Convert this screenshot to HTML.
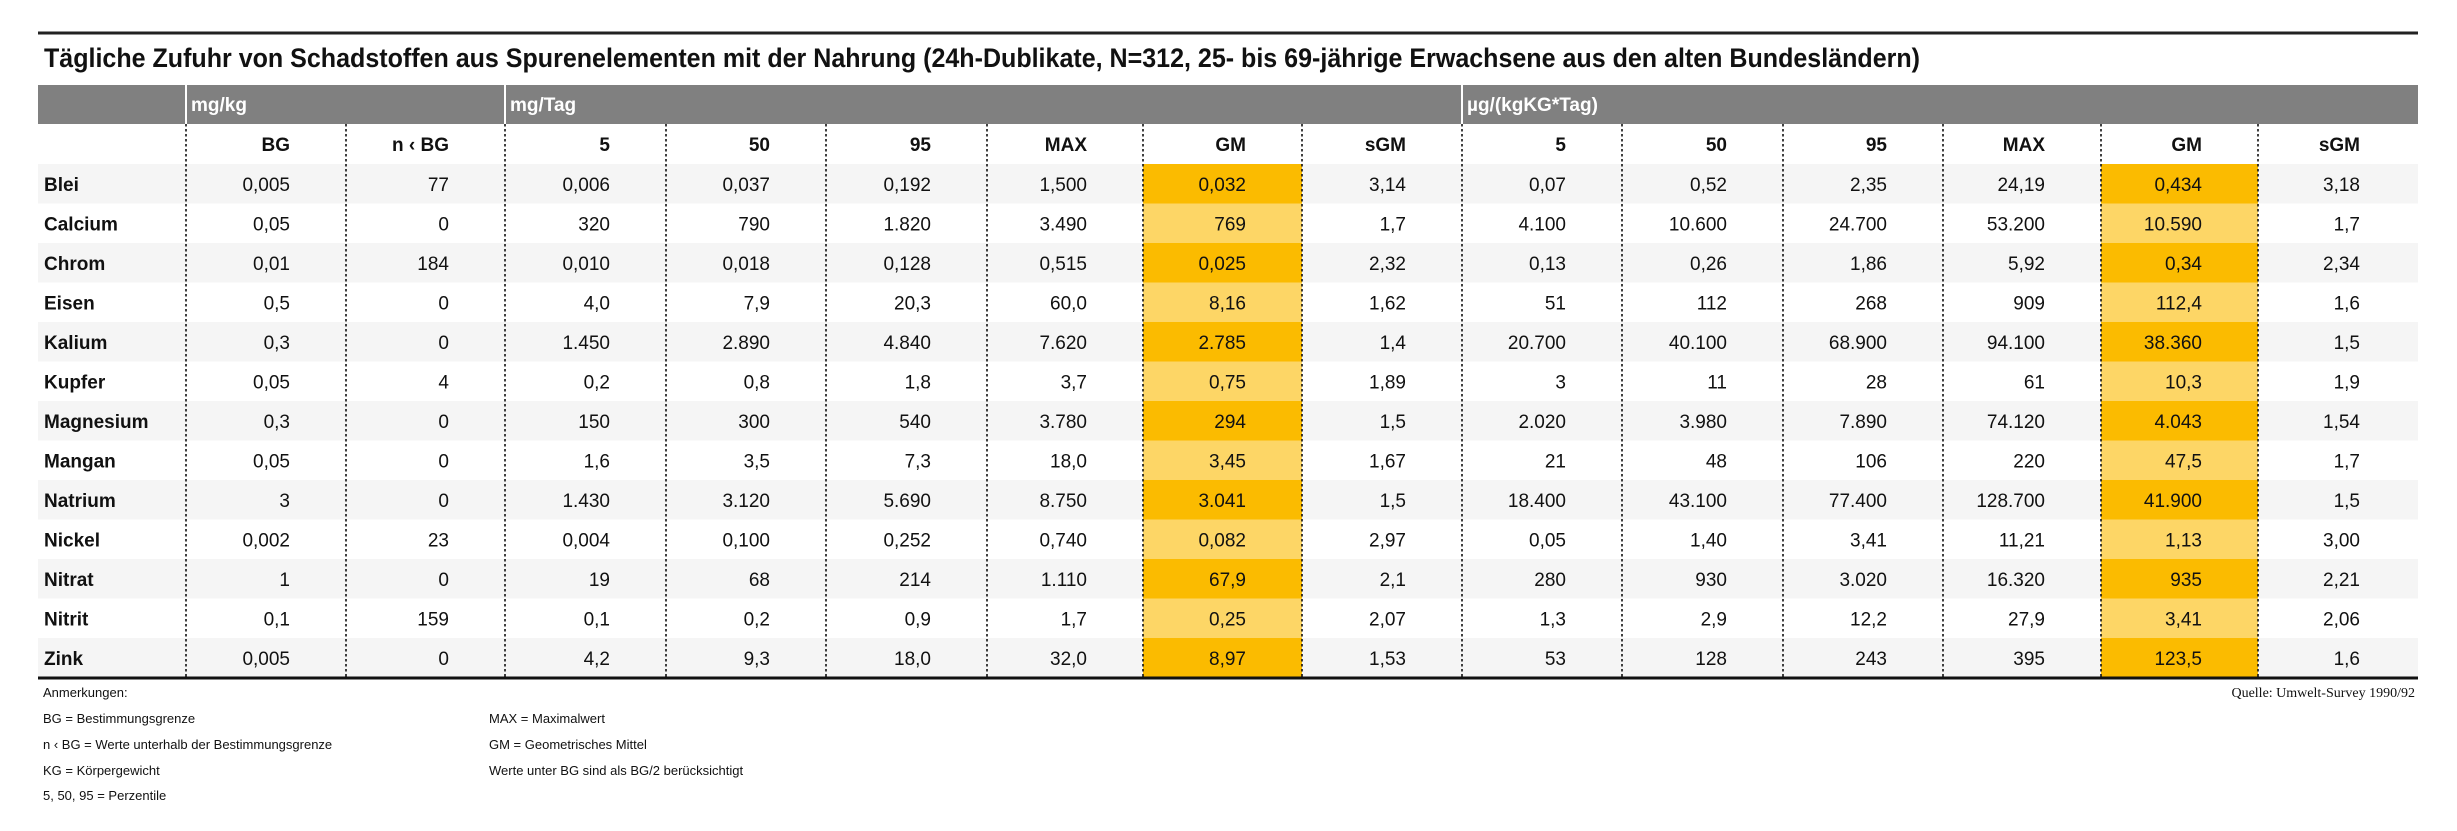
<!DOCTYPE html>
<html><head><meta charset="utf-8"><style>
html,body{margin:0;padding:0;background:#fff}
svg{display:block}
text{font-family:"Liberation Sans",sans-serif;fill:#111}
text.w{fill:#fff}
</style></head><body>
<svg width="2457" height="831" viewBox="0 0 2457 831" xmlns="http://www.w3.org/2000/svg">
<rect width="2457" height="831" fill="#fff"/>
<line x1="38" y1="33" x2="2418" y2="33" stroke="#222" stroke-width="3"/>
<text x="44" y="67" font-size="27" font-weight="bold" textLength="1876" lengthAdjust="spacingAndGlyphs">Tägliche Zufuhr von Schadstoffen aus Spurenelementen mit der Nahrung (24h-Dublikate, N=312, 25- bis 69-jährige Erwachsene aus den alten Bundesländern)</text>
<rect x="38" y="85" width="2380" height="39" fill="#808080"/>
<rect x="185" y="85" width="2" height="39" fill="#fff"/>
<rect x="504" y="85" width="2" height="39" fill="#fff"/>
<rect x="1461" y="85" width="2" height="39" fill="#fff"/>
<g font-size="19" font-weight="bold">
<text class="w" x="191" y="111" style="fill:#fff">mg/kg</text>
<text class="w" x="510" y="111" style="fill:#fff">mg/Tag</text>
<text class="w" x="1467" y="111" style="fill:#fff">µg/(kgKG*Tag)</text>
</g>
<g fill="#f5f5f5">
<rect x="38" y="164" width="2380" height="39.5"/>
<rect x="38" y="243" width="2380" height="39.5"/>
<rect x="38" y="322" width="2380" height="39.5"/>
<rect x="38" y="401" width="2380" height="39.5"/>
<rect x="38" y="480" width="2380" height="39.5"/>
<rect x="38" y="559" width="2380" height="39.5"/>
<rect x="38" y="638" width="2380" height="40"/>
</g>
<g>
<rect x="1143" y="164" width="159" height="514" fill="#fdd666"/>
<rect x="2101" y="164" width="157" height="514" fill="#fdd666"/>
<g fill="#fbbb00">
<rect x="1143" y="164" width="159" height="39.5"/><rect x="2101" y="164" width="157" height="39.5"/>
<rect x="1143" y="243" width="159" height="39.5"/><rect x="2101" y="243" width="157" height="39.5"/>
<rect x="1143" y="322" width="159" height="39.5"/><rect x="2101" y="322" width="157" height="39.5"/>
<rect x="1143" y="401" width="159" height="39.5"/><rect x="2101" y="401" width="157" height="39.5"/>
<rect x="1143" y="480" width="159" height="39.5"/><rect x="2101" y="480" width="157" height="39.5"/>
<rect x="1143" y="559" width="159" height="39.5"/><rect x="2101" y="559" width="157" height="39.5"/>
<rect x="1143" y="638" width="159" height="40"/><rect x="2101" y="638" width="157" height="40"/>
</g></g>
<g stroke="#111" stroke-width="1.6" stroke-dasharray="2.5,2.5">
<line x1="186" y1="124" x2="186" y2="678"/><line x1="346" y1="124" x2="346" y2="678"/>
<line x1="505" y1="124" x2="505" y2="678"/><line x1="666" y1="124" x2="666" y2="678"/>
<line x1="826" y1="124" x2="826" y2="678"/><line x1="987" y1="124" x2="987" y2="678"/>
<line x1="1143" y1="124" x2="1143" y2="678"/><line x1="1302" y1="124" x2="1302" y2="678"/>
<line x1="1462" y1="124" x2="1462" y2="678"/><line x1="1622" y1="124" x2="1622" y2="678"/>
<line x1="1783" y1="124" x2="1783" y2="678"/><line x1="1943" y1="124" x2="1943" y2="678"/>
<line x1="2101" y1="124" x2="2101" y2="678"/><line x1="2258" y1="124" x2="2258" y2="678"/>
</g>
<line x1="38" y1="678" x2="2418" y2="678" stroke="#111" stroke-width="3"/>
<text font-size="19" font-weight="bold" text-anchor="end" y="151"><tspan x="290">BG</tspan><tspan x="449">n ‹ BG</tspan><tspan x="610">5</tspan><tspan x="770">50</tspan><tspan x="931">95</tspan><tspan x="1087">MAX</tspan><tspan x="1246">GM</tspan><tspan x="1406">sGM</tspan><tspan x="1566">5</tspan><tspan x="1727">50</tspan><tspan x="1887">95</tspan><tspan x="2045">MAX</tspan><tspan x="2202">GM</tspan><tspan x="2360">sGM</tspan></text>
<g font-size="19" font-weight="bold">
<text x="44" y="191">Blei</text><text x="44" y="230.5">Calcium</text><text x="44" y="270">Chrom</text><text x="44" y="309.5">Eisen</text><text x="44" y="349">Kalium</text><text x="44" y="388.5">Kupfer</text><text x="44" y="428">Magnesium</text><text x="44" y="467.5">Mangan</text><text x="44" y="507">Natrium</text><text x="44" y="546.5">Nickel</text><text x="44" y="586">Nitrat</text><text x="44" y="625.5">Nitrit</text><text x="44" y="665">Zink</text>
</g>
<g font-size="19" text-anchor="end">
<text y="191"><tspan x="290">0,005</tspan><tspan x="449">77</tspan><tspan x="610">0,006</tspan><tspan x="770">0,037</tspan><tspan x="931">0,192</tspan><tspan x="1087">1,500</tspan><tspan x="1246">0,032</tspan><tspan x="1406">3,14</tspan><tspan x="1566">0,07</tspan><tspan x="1727">0,52</tspan><tspan x="1887">2,35</tspan><tspan x="2045">24,19</tspan><tspan x="2202">0,434</tspan><tspan x="2360">3,18</tspan></text>
<text y="230.5"><tspan x="290">0,05</tspan><tspan x="449">0</tspan><tspan x="610">320</tspan><tspan x="770">790</tspan><tspan x="931">1.820</tspan><tspan x="1087">3.490</tspan><tspan x="1246">769</tspan><tspan x="1406">1,7</tspan><tspan x="1566">4.100</tspan><tspan x="1727">10.600</tspan><tspan x="1887">24.700</tspan><tspan x="2045">53.200</tspan><tspan x="2202">10.590</tspan><tspan x="2360">1,7</tspan></text>
<text y="270"><tspan x="290">0,01</tspan><tspan x="449">184</tspan><tspan x="610">0,010</tspan><tspan x="770">0,018</tspan><tspan x="931">0,128</tspan><tspan x="1087">0,515</tspan><tspan x="1246">0,025</tspan><tspan x="1406">2,32</tspan><tspan x="1566">0,13</tspan><tspan x="1727">0,26</tspan><tspan x="1887">1,86</tspan><tspan x="2045">5,92</tspan><tspan x="2202">0,34</tspan><tspan x="2360">2,34</tspan></text>
<text y="309.5"><tspan x="290">0,5</tspan><tspan x="449">0</tspan><tspan x="610">4,0</tspan><tspan x="770">7,9</tspan><tspan x="931">20,3</tspan><tspan x="1087">60,0</tspan><tspan x="1246">8,16</tspan><tspan x="1406">1,62</tspan><tspan x="1566">51</tspan><tspan x="1727">112</tspan><tspan x="1887">268</tspan><tspan x="2045">909</tspan><tspan x="2202">112,4</tspan><tspan x="2360">1,6</tspan></text>
<text y="349"><tspan x="290">0,3</tspan><tspan x="449">0</tspan><tspan x="610">1.450</tspan><tspan x="770">2.890</tspan><tspan x="931">4.840</tspan><tspan x="1087">7.620</tspan><tspan x="1246">2.785</tspan><tspan x="1406">1,4</tspan><tspan x="1566">20.700</tspan><tspan x="1727">40.100</tspan><tspan x="1887">68.900</tspan><tspan x="2045">94.100</tspan><tspan x="2202">38.360</tspan><tspan x="2360">1,5</tspan></text>
<text y="388.5"><tspan x="290">0,05</tspan><tspan x="449">4</tspan><tspan x="610">0,2</tspan><tspan x="770">0,8</tspan><tspan x="931">1,8</tspan><tspan x="1087">3,7</tspan><tspan x="1246">0,75</tspan><tspan x="1406">1,89</tspan><tspan x="1566">3</tspan><tspan x="1727">11</tspan><tspan x="1887">28</tspan><tspan x="2045">61</tspan><tspan x="2202">10,3</tspan><tspan x="2360">1,9</tspan></text>
<text y="428"><tspan x="290">0,3</tspan><tspan x="449">0</tspan><tspan x="610">150</tspan><tspan x="770">300</tspan><tspan x="931">540</tspan><tspan x="1087">3.780</tspan><tspan x="1246">294</tspan><tspan x="1406">1,5</tspan><tspan x="1566">2.020</tspan><tspan x="1727">3.980</tspan><tspan x="1887">7.890</tspan><tspan x="2045">74.120</tspan><tspan x="2202">4.043</tspan><tspan x="2360">1,54</tspan></text>
<text y="467.5"><tspan x="290">0,05</tspan><tspan x="449">0</tspan><tspan x="610">1,6</tspan><tspan x="770">3,5</tspan><tspan x="931">7,3</tspan><tspan x="1087">18,0</tspan><tspan x="1246">3,45</tspan><tspan x="1406">1,67</tspan><tspan x="1566">21</tspan><tspan x="1727">48</tspan><tspan x="1887">106</tspan><tspan x="2045">220</tspan><tspan x="2202">47,5</tspan><tspan x="2360">1,7</tspan></text>
<text y="507"><tspan x="290">3</tspan><tspan x="449">0</tspan><tspan x="610">1.430</tspan><tspan x="770">3.120</tspan><tspan x="931">5.690</tspan><tspan x="1087">8.750</tspan><tspan x="1246">3.041</tspan><tspan x="1406">1,5</tspan><tspan x="1566">18.400</tspan><tspan x="1727">43.100</tspan><tspan x="1887">77.400</tspan><tspan x="2045">128.700</tspan><tspan x="2202">41.900</tspan><tspan x="2360">1,5</tspan></text>
<text y="546.5"><tspan x="290">0,002</tspan><tspan x="449">23</tspan><tspan x="610">0,004</tspan><tspan x="770">0,100</tspan><tspan x="931">0,252</tspan><tspan x="1087">0,740</tspan><tspan x="1246">0,082</tspan><tspan x="1406">2,97</tspan><tspan x="1566">0,05</tspan><tspan x="1727">1,40</tspan><tspan x="1887">3,41</tspan><tspan x="2045">11,21</tspan><tspan x="2202">1,13</tspan><tspan x="2360">3,00</tspan></text>
<text y="586"><tspan x="290">1</tspan><tspan x="449">0</tspan><tspan x="610">19</tspan><tspan x="770">68</tspan><tspan x="931">214</tspan><tspan x="1087">1.110</tspan><tspan x="1246">67,9</tspan><tspan x="1406">2,1</tspan><tspan x="1566">280</tspan><tspan x="1727">930</tspan><tspan x="1887">3.020</tspan><tspan x="2045">16.320</tspan><tspan x="2202">935</tspan><tspan x="2360">2,21</tspan></text>
<text y="625.5"><tspan x="290">0,1</tspan><tspan x="449">159</tspan><tspan x="610">0,1</tspan><tspan x="770">0,2</tspan><tspan x="931">0,9</tspan><tspan x="1087">1,7</tspan><tspan x="1246">0,25</tspan><tspan x="1406">2,07</tspan><tspan x="1566">1,3</tspan><tspan x="1727">2,9</tspan><tspan x="1887">12,2</tspan><tspan x="2045">27,9</tspan><tspan x="2202">3,41</tspan><tspan x="2360">2,06</tspan></text>
<text y="665"><tspan x="290">0,005</tspan><tspan x="449">0</tspan><tspan x="610">4,2</tspan><tspan x="770">9,3</tspan><tspan x="931">18,0</tspan><tspan x="1087">32,0</tspan><tspan x="1246">8,97</tspan><tspan x="1406">1,53</tspan><tspan x="1566">53</tspan><tspan x="1727">128</tspan><tspan x="1887">243</tspan><tspan x="2045">395</tspan><tspan x="2202">123,5</tspan><tspan x="2360">1,6</tspan></text>
</g>
<g font-size="13">
<text x="43" y="697">Anmerkungen:</text>
<text x="43" y="723">BG = Bestimmungsgrenze</text>
<text x="43" y="749">n ‹ BG = Werte unterhalb der Bestimmungsgrenze</text>
<text x="43" y="775">KG = Körpergewicht</text>
<text x="43" y="800">5, 50, 95 = Perzentile</text>
<text x="489" y="723">MAX = Maximalwert</text>
<text x="489" y="749">GM = Geometrisches Mittel</text>
<text x="489" y="775">Werte unter BG sind als BG/2 berücksichtigt</text>
</g>
<text x="2415" y="697" font-size="14" text-anchor="end" style="font-family:'Liberation Serif',serif">Quelle: Umwelt-Survey 1990/92</text>
</svg>
</body></html>
